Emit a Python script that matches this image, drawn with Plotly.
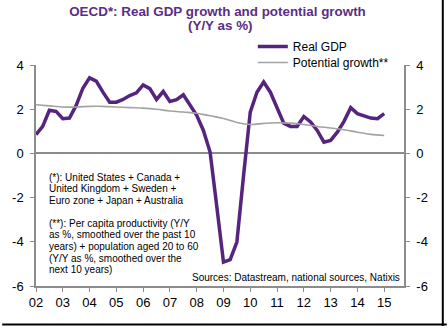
import plotly.graph_objects as go

# ---------------- data ----------------
quarters = [2002 + 0.25 * i for i in range(53)]
real_gdp = [0.85, 1.22, 1.95, 1.90, 1.57, 1.60, 2.17, 2.95,
            3.42, 3.27, 2.77, 2.32, 2.32, 2.44, 2.62, 2.74,
            3.10, 2.93, 2.44, 2.80, 2.35, 2.43, 2.65, 2.17,
            1.72, 1.04, 0.06, -2.40, -4.92, -4.81, -4.01, -1.00,
            1.87, 2.77, 3.23, 2.77, 2.02, 1.37, 1.22, 1.22,
            1.67, 1.42, 1.04, 0.51, 0.59, 0.96, 1.45, 2.07,
            1.80, 1.69, 1.60, 1.57, 1.80]

half_years = [2002 + 0.5 * i for i in range(27)]
potential = [2.20, 2.15, 2.10, 2.10, 2.13, 2.13, 2.10, 2.07, 2.05, 2.00,
             1.92, 1.87, 1.82, 1.70, 1.58, 1.40, 1.31, 1.36, 1.39, 1.37,
             1.31, 1.22, 1.15, 1.07, 0.96, 0.86, 0.81]

year_ticks = list(range(2002, 2016))
year_labels = [f"{y % 100:02d}" for y in year_ticks]
y_ticks = [-6, -4, -2, 0, 2, 4]
y_labels = ["-6", "-4", "-2", "0", "2", "4"]

title_line1 = "OECD*: Real GDP growth and potential growth"
title_line2 = "(Y/Y as %)"
note1 = ["(*): United States + Canada +",
         "United Kingdom + Sweden +",
         "Euro zone + Japan + Australia"]
note2 = ["(**): Per capita productivity (Y/Y",
         "as %, smoothed over the past 10",
         "years) + population aged 20 to 60",
         "(Y/Y as %, smoothed over the",
         "next 10 years)"]
source = "Sources: Datastream, national sources, Natixis"

# ---------------- style ----------------
PURPLE = "#56247E"
TITLE_PURPLE = "#5B2D86"
GREY = "#A3A3A3"
AXIS = "#8C8C8C"
FONT = "Arial, Liberation Sans, sans-serif"

W, H = 447, 326
L, R, T, B = 34, 43, 65, 40
PW, PH = W - L - R, H - T - B


def px_x(px):
    return (px - L) / PW


def px_y(py):
    return (H - B - py) / PH


fig = go.Figure()
fig.add_trace(go.Scatter(x=quarters, y=real_gdp, mode="lines", name="Real GDP",
                         line=dict(color=PURPLE, width=3.5), legend="legend"))
fig.add_trace(go.Scatter(x=half_years, y=potential, mode="lines",
                         name="Potential growth**", legend="legend2",
                         line=dict(color=GREY, width=1.6, shape="spline")))
fig.add_trace(go.Scatter(x=[], y=[], yaxis="y2", showlegend=False,
                         hoverinfo="skip"))

annotations = []
annotations.append(dict(text=title_line2, x=px_x(219.5), y=px_y(25.5),
                        xref="paper", yref="paper", showarrow=False,
                        xanchor="center", yanchor="middle",
                        font=dict(family=FONT, size=13.4, color=TITLE_PURPLE,
                                  weight="bold")))
for i, line in enumerate(note1):
    annotations.append(dict(text=line, x=px_x(45), y=px_y(177 + 11.7 * i),
                            xref="paper", yref="paper", showarrow=False,
                            xanchor="left", yanchor="middle",
                            font=dict(family=FONT, size=10, color="#000")))
for i, line in enumerate(note2):
    annotations.append(dict(text=line, x=px_x(45), y=px_y(223 + 11.7 * i),
                            xref="paper", yref="paper", showarrow=False,
                            xanchor="left", yanchor="middle",
                            font=dict(family=FONT, size=10, color="#000")))
annotations.append(dict(text=source, x=px_x(401.5), y=px_y(277.5),
                        xref="paper", yref="paper", showarrow=False,
                        xanchor="right", yanchor="middle",
                        font=dict(family=FONT, size=10, color="#000")))

shapes = [
    dict(type="line", xref="paper", yref="paper",
         x0=px_x(443), x1=px_x(443), y0=px_y(0), y1=px_y(326),
         line=dict(color="#000", width=2)),
    dict(type="line", xref="paper", yref="paper",
         x0=px_x(0), x1=px_x(447), y0=px_y(324.5), y1=px_y(324.5),
         line=dict(color="#000", width=2)),
]

axis_font = dict(family=FONT, size=13, color="#000")
legend_font = dict(family=FONT, size=12, color="#000")

fig.update_layout(
    width=W, height=H,
    margin=dict(l=L, r=R, t=T, b=B),
    paper_bgcolor="white", plot_bgcolor="white",
    title=dict(text=title_line1, x=217.5 / W, xanchor="center",
               y=1 - 11 / H, yanchor="middle", yref="container",
               font=dict(family=FONT, size=13.4, color=TITLE_PURPLE,
                         weight="bold")),
    showlegend=True,
    legend=dict(x=px_x(252), y=px_y(32), xanchor="left", yanchor="top",
                bgcolor="rgba(0,0,0,0)", font=legend_font),
    legend2=dict(x=px_x(252), y=px_y(48), xanchor="left", yanchor="top",
                 bgcolor="rgba(0,0,0,0)", font=legend_font),
    xaxis=dict(range=[2002, 2015.74], tickvals=year_ticks, ticktext=year_labels,
               showgrid=False, zeroline=False, showline=True, linecolor=AXIS,
               linewidth=1.5, ticks="outside", ticklen=4, tickcolor=AXIS,
               tickfont=axis_font),
    yaxis=dict(range=[-6, 4], tickvals=y_ticks, ticktext=y_labels,
               showgrid=False,
               zeroline=True, zerolinecolor=AXIS, zerolinewidth=2,
               showline=True, linecolor=AXIS, linewidth=1.5, ticks="outside",
               ticklen=4, tickcolor=AXIS, tickfont=axis_font,
               ticklabelstandoff=4),
    yaxis2=dict(range=[-6, 4], tickvals=y_ticks, ticktext=y_labels,
                overlaying="y", side="right",
                anchor="x", showgrid=False, zeroline=False, showline=True,
                linecolor=AXIS, linewidth=1.5, ticks="outside", ticklen=4,
                tickcolor=AXIS, tickfont=axis_font, ticklabelstandoff=4),
    annotations=annotations,
    shapes=shapes,
)

fig.write_html("out.html")
